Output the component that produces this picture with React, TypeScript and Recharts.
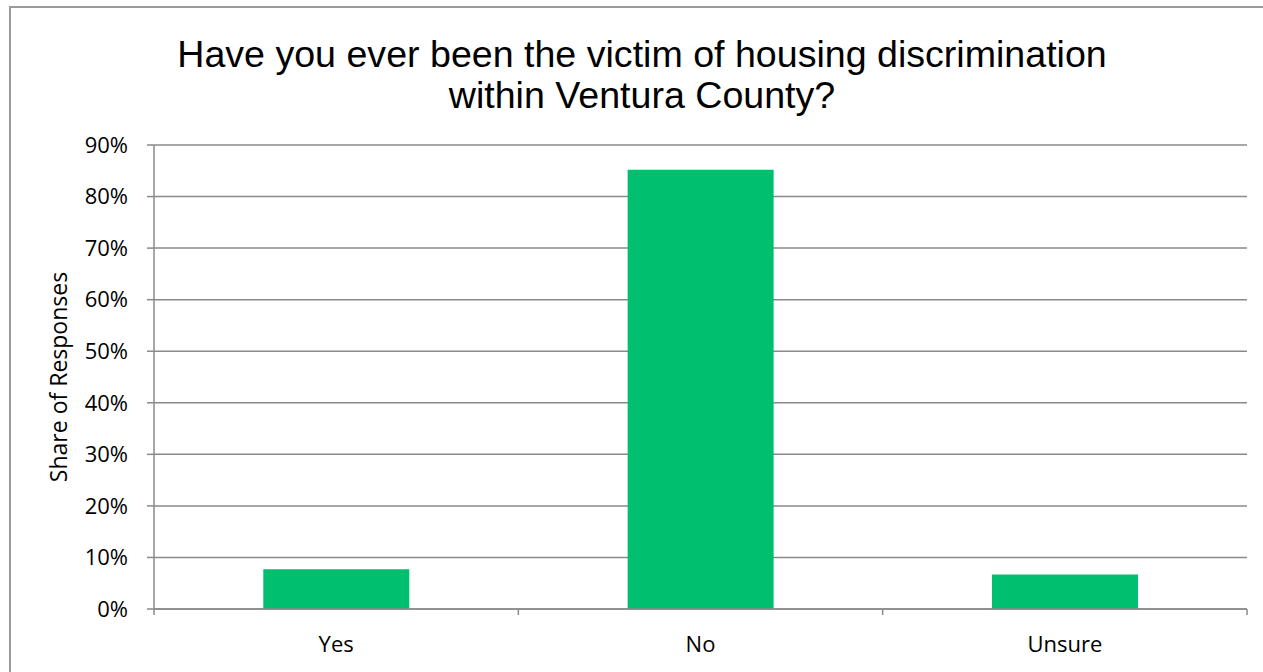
import React from 'react';
import { BarChart, Bar, XAxis, YAxis, CartesianGrid } from 'recharts';

const categories = ['Yes', 'No', 'Unsure'];
const shares = [0.077, 0.852, 0.067];
const yTicks = [0, 0.1, 0.2, 0.3, 0.4, 0.5, 0.6, 0.7, 0.8, 0.9];

const data = categories.map((c, i) => ({ category: c, share: shares[i] }));

const GRID = '#8a8a8a';
const FONT = '"Open Sans", sans-serif';
const X_TICK_MARGIN = 27;

function CategoryTick(props: any) {
  const { x, y, payload, index, width, visibleTicksCount } = props;
  const band = width / visibleTicksCount;
  const axisY = y - X_TICK_MARGIN;
  const left = x - band / 2;
  const right = x + band / 2;
  return (
    <g>
      <line x1={left} x2={left} y1={axisY} y2={axisY + 6} stroke={GRID} strokeWidth={1.5} />
      {index === visibleTicksCount - 1 && (
        <line x1={right} x2={right} y1={axisY} y2={axisY + 6} stroke={GRID} strokeWidth={1.5} />
      )}
      <text x={x} y={y} dy="0.71em" textAnchor="middle" fill="#000" fontSize={22} fontFamily={FONT}>
        {payload.value}
      </text>
    </g>
  );
}

export default function App() {
  return (
    <div style={{ position: 'fixed', left: 0, top: 0, width: 1263, height: 672, background: '#fff', overflow: 'hidden' }}>
      <div
        style={{
          position: 'absolute',
          left: 9,
          top: 6,
          width: 1300,
          height: 700,
          borderLeft: '2px solid #9a9a9a',
          borderTop: '2px solid #9a9a9a',
          boxSizing: 'border-box',
        }}
      />
      <div
        style={{
          position: 'absolute',
          left: 42,
          top: 34,
          width: 1200,
          textAlign: 'center',
          fontFamily: '"Liberation Sans", Arial, sans-serif',
          fontSize: 37.6,
          lineHeight: '41px',
          color: '#000',
        }}
      >
        Have you ever been the victim of housing discrimination
        <br />
        within Ventura County?
      </div>
      <div style={{ position: 'absolute', left: 0, top: 0 }}>
        <BarChart
          width={1263}
          height={672}
          data={data}
          margin={{ top: 145, right: 16, bottom: 0, left: 0 }}
          barCategoryGap="30%"
        >
          <CartesianGrid vertical={false} horizontal stroke={GRID} strokeWidth={1.5} />
          <XAxis
            dataKey="category"
            height={63}
            axisLine={{ stroke: GRID, strokeWidth: 1.5 }}
            tickLine={false}
            tickSize={0}
            tickMargin={X_TICK_MARGIN}
            tick={<CategoryTick />}
          />
          <YAxis
            width={154}
            domain={[0, 0.9]}
            ticks={yTicks}
            tickFormatter={(v: number) => `${Math.round(v * 100)}%`}
            axisLine={{ stroke: GRID, strokeWidth: 1.5 }}
            tickLine={{ stroke: GRID, strokeWidth: 1.5 }}
            tickSize={7}
            tickMargin={19}
            tick={{ fill: '#000', fontSize: 22, fontFamily: FONT }}
            label={{
              value: 'Share of Responses',
              angle: -90,
              position: 'insideLeft',
              dx: 54,
              style: { textAnchor: 'middle', fill: '#000', fontSize: 23, fontFamily: FONT },
            }}
          />
          <Bar dataKey="share" fill="#00BF6F" isAnimationActive={false} />
        </BarChart>
      </div>
    </div>
  );
}
